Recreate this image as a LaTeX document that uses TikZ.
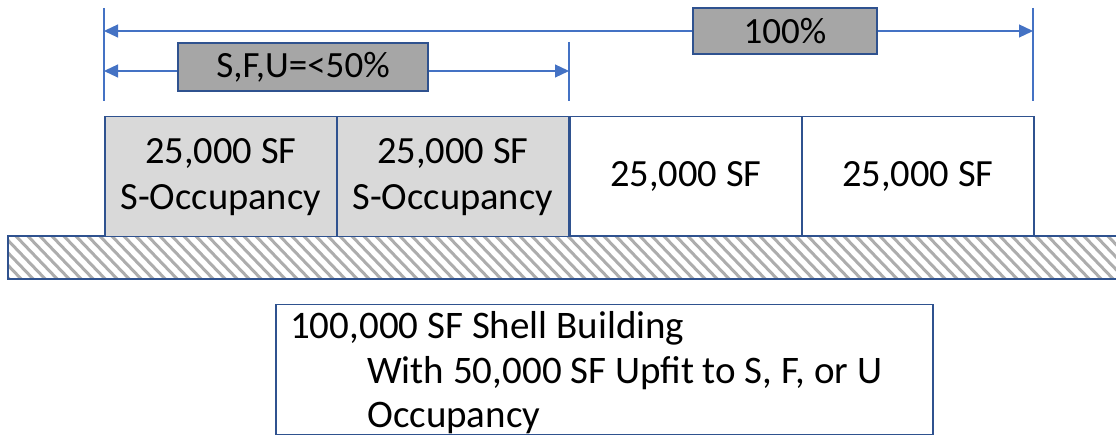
\documentclass[tikz,border=0pt]{standalone}
\usepackage{fontspec}
\setmainfont{Carlito}
\usetikzlibrary{arrows.meta}
\definecolor{bord}{HTML}{2F528F}
\definecolor{dimc}{HTML}{4472C4}
\definecolor{cellgray}{HTML}{D9D9D9}
\definecolor{labgray}{HTML}{A6A6A6}
\definecolor{hatchc}{HTML}{ADADAD}
\begin{document}
\begin{tikzpicture}[x=1pt,y=-1pt,
  big/.style={font=\fontsize{37}{46}\selectfont},
  cellfont/.style={font=\fontsize{38.5}{46}\selectfont},
  shellfont/.style={font=\fontsize{39}{44}\selectfont},
  cell/.style={draw=bord,line width=1.5pt,minimum width=232pt,minimum height=120pt,
    inner sep=0pt,align=center,anchor=north west,cellfont},
  lab/.style={draw=bord,line width=1.5pt,fill=labgray,inner sep=0pt,big},
  extline/.style={draw=dimc,line width=1.3pt},
  dimline/.style={draw=dimc,line width=1.2pt},
  tip/.style={-{Triangle[length=14pt,width=13pt]}},
  tipback/.style={{Triangle[length=14pt,width=13pt]}-}
]
\useasboundingbox (0,0) rectangle (1116,435);

% ground hatch
\begin{scope}
  \clip (8,236) rectangle (1116,279);
  \foreach \x in {-60,-48,...,1128} {
    \draw[hatchc,line width=3pt] (\x,232) -- (\x+50,284);
  }
\end{scope}
\draw[bord,line width=2pt] (1116,236) -- (8,236) -- (8,279) -- (1116,279);

% cells
\node[cell,fill=cellgray] (c1) at (104,116) {25,000 SF\\S-Occupancy};
\node[cell,fill=cellgray] (c2) at (336,116) {25,000 SF\\S-Occupancy};
\node[cell] (c3) at (569,116) {25,000 SF};
\node[cell] (c4) at (801,116) {25,000 SF};

% extension lines
\coordinate (e1t) at (104,8);   \coordinate (e1b) at (104,101);
\coordinate (e2t) at (569,42);  \coordinate (e2b) at (569,101);
\coordinate (e3t) at (1033,8);  \coordinate (e3b) at (1033,101);
\draw[extline] (e1t) -- (e1b);
\draw[extline] (e2t) -- (e2b);
\draw[extline] (e3t) -- (e3b);

% dimension labels
\node[lab,minimum width=184pt,minimum height=46pt] (l100) at (785,31) {100\%};
\node[lab,minimum width=250pt,minimum height=48pt] (lsfu) at (303,67) {S,F,U=<50\%};

% dimension arrows
\coordinate (a1) at (104,31);  \coordinate (a2) at (1033,31);
\coordinate (b1) at (104,71);  \coordinate (b2) at (569,71);
\draw[dimline,tipback] (a1) -- (l100.west);
\draw[dimline,tip] (l100.east) -- (a2);
\draw[dimline,tipback] (b1) -- (b1 -| lsfu.west);
\draw[dimline,tip] (b2 -| lsfu.east) -- (b2);

% bottom text box
\node[draw=bord,line width=1.5pt,minimum width=657pt,minimum height=130pt,
  inner sep=0pt,anchor=north west] (shell) at (275,304) {};
\node[shellfont,anchor=base west,inner sep=0pt] (t1) at (290,339) {100,000 SF Shell Building};
\node[shellfont,anchor=base west,inner sep=0pt] (t2) at (367,383) {With 50,000 SF Upfit to S, F, or U};
\node[shellfont,anchor=base west,inner sep=0pt] (t3) at (367,427) {Occupancy};
\end{tikzpicture}
\end{document}
